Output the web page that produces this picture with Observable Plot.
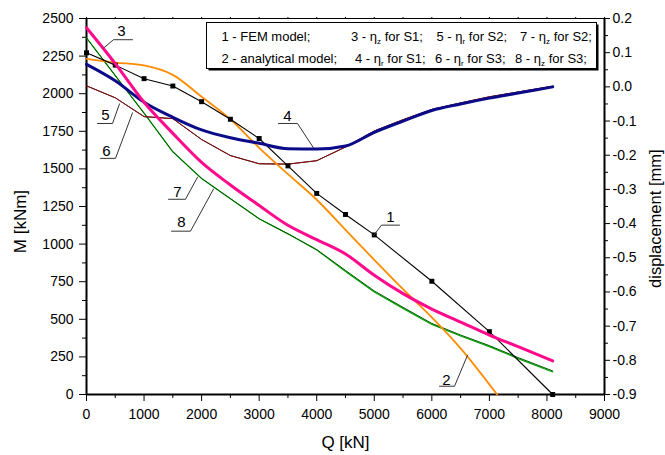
<!DOCTYPE html>
<html><head><meta charset="utf-8">
<script src="https://cdn.jsdelivr.net/npm/d3@7"></script>
<script src="https://cdn.jsdelivr.net/npm/@observablehq/plot@0.6"></script>
<style>
body{margin:0;background:#fff}
svg{font-family:Arial,"Liberation Sans",sans-serif}
</style>
</head><body><div id="chart"></div>
<script>
// ---- data ----
const qFem = [0,500,1000,1500,2000,2500,3000,3500,4000,4500,5000,6000,7000,8100];
const mFem = [2272,2190,2100,2051,1947,1830,1702,1520,1337,1197,1061,753,418,0];

const qAn = [0,500,1000,1500,2000,2500,3000,3500,4000,4500,5000,5500,6000,6500,7134];
const mAn = [2232,2207,2188,2125,1980,1830,1640,1465,1295,1095,895,700,513,307,0];

const qDisp = [0,500,1000,1500,2000,2500,3000,3500,4000,4500,5000,5500,6000,6500,7000,7500,8100];
const etaZ_S1 = [0.173,0.068,-0.045,-0.136,-0.221,-0.287,-0.347,-0.405,-0.447,-0.489,-0.551,-0.605,-0.650,-0.688,-0.726,-0.760,-0.802];
const etaR_S1 = [0.066,0.018,-0.045,-0.089,-0.126,-0.149,-0.165,-0.181,-0.182,-0.173,-0.133,-0.100,-0.069,-0.050,-0.033,-0.018,0.0];
const etaR_S2 = [0.003,-0.032,-0.087,-0.093,-0.154,-0.201,-0.225,-0.226,-0.216,-0.176,-0.129,-0.096,-0.066,-0.047,-0.029,-0.015,0.002];
const etaR_S3 = [0.003,-0.032,-0.087,-0.093,-0.154,-0.201,-0.225,-0.226,-0.216,-0.176,-0.129,-0.096,-0.066,-0.047,-0.029,-0.015,0.002];
const etaZ_S2 = [0.143,0.033,-0.077,-0.190,-0.268,-0.327,-0.386,-0.430,-0.476,-0.537,-0.597,-0.645,-0.692,-0.726,-0.757,-0.792,-0.831];
const etaZ_S3 = [0.143,0.033,-0.077,-0.190,-0.268,-0.327,-0.386,-0.430,-0.477,-0.540,-0.600,-0.648,-0.695,-0.729,-0.760,-0.795,-0.834];

// axis ticks
const xTicks = [0,1000,2000,3000,4000,5000,6000,7000,8000,9000];
const xMinor = [500,1500,2500,3500,4500,5500,6500,7500,8500];
const xTop = [0,500,1000,1500,2000,2500,3000,3500,4000,4500,5000,5500,6000,6500,7000,7500,8000,8500,9000];
const mTicks = [0,250,500,750,1000,1250,1500,1750,2000,2250,2500];
const mMinor = [125,375,625,875,1125,1375,1625,1875,2125,2375];
const dispTicks = [-0.9,-0.8,-0.7,-0.6,-0.5,-0.4,-0.3,-0.2,-0.1,0.0,0.1,0.2];
const dispMinor = [-0.85,-0.75,-0.65,-0.55,-0.45,-0.35,-0.25,-0.15,-0.05,0.05,0.15];

// curve labels (number, text position, underline, leader end)
const labNum   = ["1","2","3","4","5","6","7","8"];
const labQ     = [5282,6255,608,3492,330,347,1581,1651];
const labM     = [1176,95,2417,1852,1859,1620,1348,1143];
const ulJoinQ  = [5125,6394,469,3666,452,504,1720,1807];
const ulFarQ   = [5438,6133,799,3336,191,243,1425,1477];
const ulM      = [1126,55,2359,1802,1802,1570,1298,1086];
const leadQ    = [4986,6620,295,3944,573,799,1929,2207];
const leadM    = [1056,261,2303,1640,1932,1872,1445,1366];

// legend
const legendRows = [
  [{x:221.5, pre:"1 - FEM model;"},
   {x:351, pre:"3 - η", sub:"z", post:" for S1;"},
   {x:436.5, pre:"5 - η", sub:"r", post:" for S2;"},
   {x:520, pre:"7 - η", sub:"z", post:" for S2;"}],
  [{x:221.5, pre:"2 - analytical model;"},
   {x:355, pre:"4 - η", sub:"r", post:" for S1;"},
   {x:435, pre:"6 - η", sub:"r", post:" for S3;"},
   {x:515, pre:"8 - η", sub:"z", post:" for S3;"}]
];

// ---- secondary axis mapping ----
const dMin = -0.9, dMax = 0.2, mMax = 2500;
const toM = d => (d - dMin) / (dMax - dMin) * mMax;
const fromM = m => (Math.round((m / mMax * (dMax - dMin) + dMin) * 10) / 10 + 0).toFixed(1);

const pts = (xs, ys) => xs.map((x, i) => [x, ys[i]]);
const dpts = arr => qDisp.map((q, i) => [q, toM(arr[i])]);

const fem = pts(qFem, mFem);
const an = pts(qAn, mAn);

const leaders = [];
labNum.forEach((n, i) => {
  leaders.push({k:n, x:leadQ[i], y:leadM[i]});
  leaders.push({k:n, x:ulJoinQ[i], y:ulM[i]});
  leaders.push({k:n, x:ulFarQ[i], y:ulM[i]});
});
const labels = labNum.map((n, i) => ({n, x:labQ[i], y:labM[i]}));

const font = 'Arial,"Liberation Sans",sans-serif';

const plot = Plot.plot({
  width: 665, height: 455,
  marginLeft: 86, marginRight: 61, marginTop: 18, marginBottom: 61,
  style: {fontFamily: font, fontSize: "14px", color: "#000", background: "#fff"},
  x: {domain: [0, 9000]},
  y: {domain: [0, 2500]},
  marks: [
    // axes
    Plot.axisX({ticks: xTicks, tickSize: 7, tickPadding: 8, tickFormat: d => String(d), label: null, fontSize: 14}),
    Plot.axisX({ticks: xMinor, tickSize: 4, tickFormat: () => "", label: null}),
    Plot.axisX({anchor: "top", ticks: xTop, tickSize: 2, tickFormat: () => "", label: null}),
    Plot.axisY({ticks: mTicks, tickSize: 7, tickPadding: 6, tickFormat: d => String(d), label: null, fontSize: 14}),
    Plot.axisY({ticks: mMinor, tickSize: 4, tickFormat: () => "", label: null}),
    Plot.axisY({anchor: "right", ticks: dispTicks.map(toM), tickSize: 5, tickPadding: 3, tickFormat: fromM, label: null, fontSize: 14}),
    Plot.axisY({anchor: "right", ticks: dispMinor.map(toM), tickSize: 3, tickFormat: () => "", label: null}),
    Plot.ruleY([2500], {stroke: "#000", strokeWidth: 1}),
    Plot.ruleX([0], {stroke: "#000", strokeWidth: 2}),
    Plot.ruleX([9000], {stroke: "#000", strokeWidth: 2}),
    Plot.ruleY([0], {stroke: "#000", strokeWidth: 2}),
    // axis titles
    Plot.text(["Q [kN]"], {frameAnchor: "bottom", dy: 48, fontSize: 17, textAnchor: "middle", lineAnchor: "middle"}),
    Plot.text(["M [kNm]"], {frameAnchor: "left", y: [1150], dx: -66, rotate: -90, fontSize: 17, textAnchor: "middle", lineAnchor: "middle"}),
    Plot.text(["displacement [mm]"], {frameAnchor: "right", y: [1169], dx: 51, rotate: -90, fontSize: 16.5, textAnchor: "middle", lineAnchor: "middle"}),
    // series
    Plot.line(dpts(etaZ_S3), {stroke: "#00a400", strokeWidth: 1.2}),
    Plot.line(dpts(etaZ_S2), {stroke: "#005a00", strokeWidth: 1}),
    Plot.line(dpts(etaR_S3), {stroke: "#5a0000", strokeWidth: 1}),
    Plot.line(dpts(etaR_S2), {stroke: "#7a1010", strokeWidth: 1}),
    Plot.line(an, {stroke: "#ff8c00", strokeWidth: 1.8, curve: "monotone-x"}),
    Plot.line(fem, {stroke: "#000", strokeWidth: 1.1}),
    Plot.dot(fem, {symbol: "square", r: 2.8, fill: "#000", stroke: null}),
    Plot.line(dpts(etaR_S1), {stroke: "#0b0b8a", strokeWidth: 3, curve: "monotone-x"}),
    Plot.line(dpts(etaZ_S1), {stroke: "#ff0a8c", strokeWidth: 3, curve: "monotone-x"}),
    // curve labels
    Plot.line(leaders, {x: "x", y: "y", z: "k", stroke: "#333", strokeWidth: 1}),
    Plot.text(labels, {x: "x", y: "y", text: "n", fontSize: 15, fill: "#000"})
  ]
});

// legend box (layout)
const svg = d3.select(plot);
const g = svg.append("g").attr("font-family", font).attr("font-size", 13).attr("text-anchor", "start");
g.append("rect").attr("x", 208.5).attr("y", 24.5).attr("width", 390).attr("height", 46).attr("fill", "#000");
g.append("rect").attr("x", 206.5).attr("y", 22.5).attr("width", 390).attr("height", 46)
  .attr("fill", "#fff").attr("stroke", "#000").attr("stroke-width", 1);
const rowY = [40.5, 62.5];
legendRows.forEach((row, r) => {
  row.forEach(it => {
    const t = g.append("text").attr("x", it.x).attr("y", rowY[r]).attr("fill", "#000").attr("text-anchor", "start");
    t.append("tspan").text(it.pre);
    if (it.sub) {
      t.append("tspan").attr("font-size", 8).attr("dy", 3).text(it.sub);
      t.append("tspan").attr("dy", -3).text(it.post);
    }
  });
});

document.getElementById("chart").appendChild(plot);
</script>
</body></html>
